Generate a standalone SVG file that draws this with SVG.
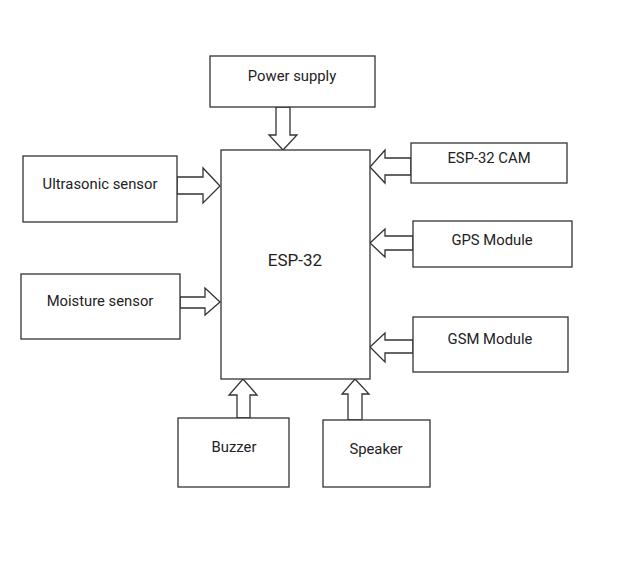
<svg xmlns="http://www.w3.org/2000/svg" width="632" height="562" viewBox="0 0 632 562">
<style>
.box{fill:#fff;stroke:#333;stroke-width:1.3}
.arr{fill:#fff;stroke:#333;stroke-width:1.3;stroke-linejoin:miter}
text{font-family:Roboto,"Liberation Sans",sans-serif;font-size:14.8px;fill:#222;text-anchor:middle;dominant-baseline:central}
.big{font-size:17px}
</style>
<rect width="632" height="562" fill="#fff"/>
<g id="connectors">
<polygon class="arr" points="276,107 290,107 290,135 297,135 283,150 269,135 276,135"/>
<polygon class="arr" points="177,177 203,177 203,168 220,186 203,203 203,194 177,194"/>
<polygon class="arr" points="180,297 205,297 205,288 220,302 205,315 205,308 180,308"/>
<polygon class="arr" points="411,158 385,158 385,150 370,167 385,183 385,175 411,175"/>
<polygon class="arr" points="413,236 385,236 385,229 370,243 385,257 385,250 413,250"/>
<polygon class="arr" points="413,340 385,340 385,333 370,347 385,362 385,353 413,353"/>
<polygon class="arr" points="237,418 237,395 229,395 243,379 257,395 250,395 250,418"/>
<polygon class="arr" points="348,420 348,394 342,394 355,379 369,394 362,394 362,420"/>
</g>
<g id="esp32"><rect class="box" x="221" y="150" width="149" height="229"/><text class="big" x="295" y="260">ESP-32</text></g>
<g id="power"><rect class="box" x="210" y="56" width="165" height="51"/><text x="292" y="76">Power supply</text></g>
<g id="ultrasonic"><rect class="box" x="23" y="156" width="154" height="66"/><text x="100" y="184">Ultrasonic sensor</text></g>
<g id="moisture"><rect class="box" x="21" y="274" width="159" height="65"/><text x="100" y="301">Moisture sensor</text></g>
<g id="cam"><rect class="box" x="411" y="143" width="156" height="40"/><text x="489" y="158">ESP-32 CAM</text></g>
<g id="gps"><rect class="box" x="413" y="221" width="159" height="46"/><text x="492" y="240">GPS Module</text></g>
<g id="gsm"><rect class="box" x="413" y="317" width="155" height="55"/><text x="490" y="339">GSM Module</text></g>
<g id="buzzer"><rect class="box" x="178" y="418" width="111" height="69"/><text x="234" y="447">Buzzer</text></g>
<g id="speaker"><rect class="box" x="323" y="420" width="107" height="67"/><text x="376" y="449">Speaker</text></g>
</svg>
